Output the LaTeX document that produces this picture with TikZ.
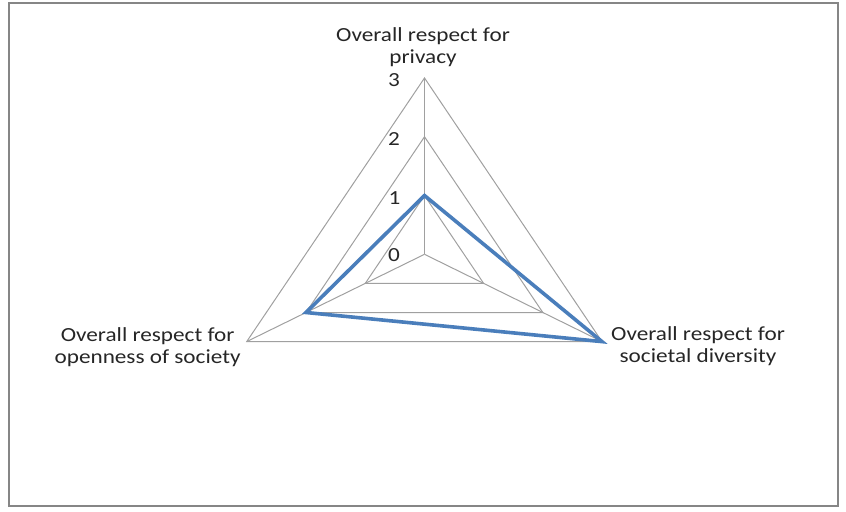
\documentclass[tikz,border=0pt]{standalone}
\usepackage{fontspec}
\setmainfont{Carlito}[FakeStretch=1.16]
\usetikzlibrary{calc}
\definecolor{framegray}{HTML}{868686}
\definecolor{gridgray}{HTML}{A0A0A0}
\definecolor{seriesblue}{HTML}{4A7EBB}
\begin{document}
\begin{tikzpicture}[x=0.75pt,y=-0.75pt,
  grid/.style={draw=gridgray, line width=0.75pt},
  series/.style={draw=seriesblue, line width=2.7pt, line join=miter},
  axlabel/.style={font=\fontsize{15}{16.3}\selectfont, align=center, inner sep=0pt, text=black!85},
  ticklabel/.style={font=\fontsize{15}{16}\selectfont, inner sep=0pt, text=black!85}]
\useasboundingbox (0,0) rectangle (846,511);
% chart frame
\draw[draw=framegray, line width=1.5pt] (9,3) rectangle (838,506);
% centre and axis ends
\coordinate (C) at (424.5,254.3);
\coordinate (A) at (424.5,78);
\coordinate (B) at (602,341.6);
\coordinate (D) at (246.7,341.6);
% grid rings at 1, 2, 3
\foreach \k in {1,2,3} {
  \draw[grid] ($(C)!\k/3!(A)$) -- ($(C)!\k/3!(B)$) -- ($(C)!\k/3!(D)$) -- cycle;
}
% spokes
\draw[grid] (C) -- (A);
\draw[grid] (C) -- (B);
\draw[grid] (C) -- (D);
% data series: privacy 1, diversity 3, openness 2
\coordinate (P1) at ($(C)!1/3!(A)$);
\coordinate (P3) at ($(C)!2/3!(D)$);
\draw[series] (P1) -- (B) -- (P3) -- cycle;
% scale labels
\node[ticklabel] (t0) at (394,255) {0};
\node[ticklabel] (t1) at (394.5,198) {1};
\node[ticklabel] (t2) at (394,139) {2};
\node[ticklabel] (t3) at (394,80) {3};
% axis labels (anchored on the baseline of their last line)
\node[axlabel, anchor=base] (lp) at (423,63.3) {Overall respect for\\privacy};
\node[axlabel, anchor=base] (lo) at (147.6,363.3) {Overall respect for\\openness of society};
\node[axlabel, anchor=base] (ld) at (698,362.7) {Overall respect for\\societal diversity};
\end{tikzpicture}
\end{document}
